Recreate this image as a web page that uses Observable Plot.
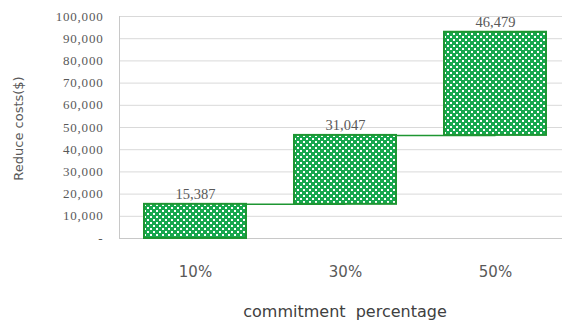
<!DOCTYPE html>
<html>
<head>
<meta charset="utf-8">
<script src="https://cdn.jsdelivr.net/npm/d3@7"></script>
<script src="https://cdn.jsdelivr.net/npm/@observablehq/plot@0.6"></script>
<style>
  html, body { margin: 0; padding: 0; background: #fff; overflow: hidden; }
  #chart svg text { white-space: pre; }
</style>
</head>
<body>
<div id="chart"></div>
<script>
// Commitment percentage categories and the cost reduction each step adds
const categories = ["10%", "30%", "50%"];
const increments = [15387, 31047, 46479];
const yTicks = [0, 10000, 20000, 30000, 40000, 50000, 60000, 70000, 80000, 90000, 100000];

// Waterfall table: each step starts where the previous one ended
let running = 0;
const steps = categories.map((cat, i) => {
  const start = running;
  running += increments[i];
  return { cat, start, end: running, value: increments[i] };
});
const connectors = steps.slice(0, -1).map((s, i) => ({ from: s.cat, to: steps[i + 1].cat, y: s.end }));

const grey = "#595959";
const green = "#1e9632";
const fmt = d3.format(",");
const serif = "Liberation Serif";
const sans = "DejaVu Sans";

const chart = Plot.plot({
  width: 570,
  height: 328,
  marginLeft: 119,
  marginRight: 0,
  marginTop: 16,
  marginBottom: 90,
  x: { domain: categories, paddingInner: 0.322, paddingOuter: 0.16, axis: null },
  y: { domain: [0, 100000], axis: null },
  marks: [
    Plot.gridY(yTicks, { stroke: "#d9d9d9", strokeOpacity: 1 }),
    Plot.ruleY([0], { stroke: "#c8c8c8" }),
    Plot.frame({ anchor: "left", stroke: "#c8c8c8" }),
    // y tick labels
    Plot.text(yTicks, {
      y: d => d, text: d => d === 0 ? "-" : fmt(d),
      frameAnchor: "left", textAnchor: "end", dx: -16,
      fontFamily: serif, fontSize: 13, fill: grey
    }),
    // x tick labels
    Plot.text(categories, {
      x: d => d, text: d => d,
      frameAnchor: "bottom", lineAnchor: "middle", dy: 34,
      fontFamily: sans, fontSize: 15, fill: grey
    }),
    Plot.link(connectors, { x1: "from", x2: "to", y1: "y", y2: "y", stroke: green, strokeWidth: 1.5 }),
    Plot.barY(steps, { x: "cat", y1: "start", y2: "end", fill: "url(#chk)", stroke: green, strokeWidth: 2 }),
    Plot.text(steps, {
      x: "cat", y: "end", text: d => fmt(d.value), dy: -10,
      fontFamily: serif, fontSize: 14.5, fill: grey
    }),
    Plot.text(["Reduce costs($)"], {
      frameAnchor: "left", textAnchor: "middle", rotate: -90, dx: -101, dy: 1,
      fontFamily: sans, fontSize: 13, fill: grey
    }),
    Plot.text(["commitment  percentage"], {
      frameAnchor: "bottom", dy: 78,
      fontFamily: sans, fontSize: 16, fill: "#404040"
    })
  ]
});

chart.style.maxWidth = "none";
chart.style.overflow = "hidden";

// Slightly wider spacing on the value-axis labels
d3.select(chart).selectAll("text")
  .filter(function () { return /^(-|\d{2,3},000)$/.test(this.textContent); })
  .attr("letter-spacing", 0.8);

// Checkered fill used by the bars
const defs = d3.select(chart).insert("defs", ":first-child");
const pat = defs.append("pattern")
  .attr("id", "chk")
  .attr("patternUnits", "userSpaceOnUse")
  .attr("width", 6)
  .attr("height", 6);
pat.append("rect").attr("width", 6).attr("height", 6).attr("fill", "#17a74e");
pat.append("rect").attr("x", 0).attr("y", 0).attr("width", 2).attr("height", 2).attr("fill", "#ffffff");
pat.append("rect").attr("x", 3).attr("y", 3).attr("width", 2).attr("height", 2).attr("fill", "#ffffff");

document.getElementById("chart").appendChild(chart);
</script>
</body>
</html>
